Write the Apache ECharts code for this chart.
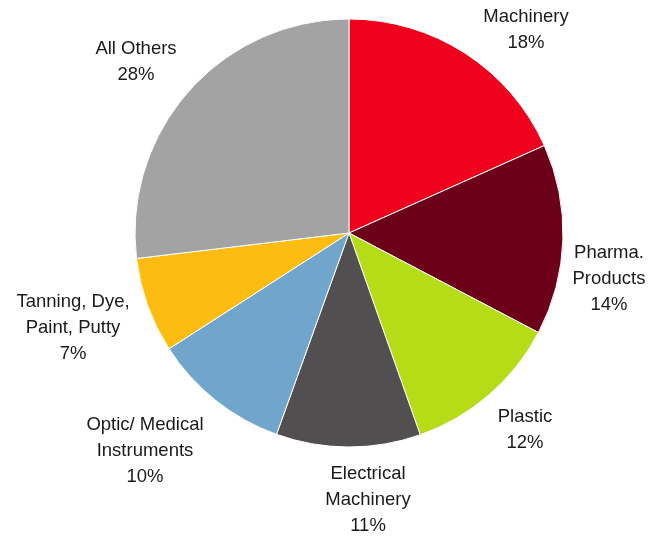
<!DOCTYPE html>
<html>
<head>
<meta charset="utf-8">
<script src="https://cdn.jsdelivr.net/npm/echarts@6/dist/echarts.min.js"></script>
<style>html,body{margin:0;padding:0;background:#fff;}#c{width:660px;height:536px;}</style>
</head>
<body>
<div id="c"></div>
<script>
const categories = ["Machinery", "Pharma.\nProducts", "Plastic", "Electrical\nMachinery", "Optic/ Medical\nInstruments", "Tanning, Dye,\nPaint, Putty", "All Others"];
const values = [18.3, 14.4, 11.9, 10.9, 10.4, 7.2, 26.9];
const percentLabels = ["18%", "14%", "12%", "11%", "10%", "7%", "28%"];
const colors = ["#EF001C", "#6D0019", "#B6DB17", "#524F50", "#70A5CC", "#FDBC12", "#A3A3A3"];

const labelPos = [[526, 30], [609, 279], [525, 430], [368, 500], [145, 451], [73, 328], [136, 62]];

const chart = echarts.init(document.getElementById('c'), null, {renderer: 'canvas'});
chart.setOption({
  animation: false,
  backgroundColor: '#ffffff',
  series: [{
    type: 'pie',
    center: [349, 233],
    radius: 214,
    startAngle: 90,
    clockwise: true,
    data: categories.map((c, i) => ({name: c, value: values[i], itemStyle: {color: colors[i]}})),
    itemStyle: {borderColor: '#ffffff', borderWidth: 1},
    label: {
      show: true,
      position: 'outside',
      overflow: 'none',
      width: 200,
      formatter: p => p.name + '\n' + percentLabels[p.dataIndex],
      fontFamily: 'Liberation Sans, Arial, sans-serif',
      fontSize: 18.5,
      lineHeight: 26,
      color: '#1a1a1a',
      align: 'center'
    },
    labelLine: {show: false},
    labelLayout: params => ({
      x: labelPos[params.dataIndex][0],
      y: labelPos[params.dataIndex][1],
      align: 'center',
      verticalAlign: 'middle'
    }),
    emphasis: {disabled: true}
  }]
});
</script>
</body>
</html>
